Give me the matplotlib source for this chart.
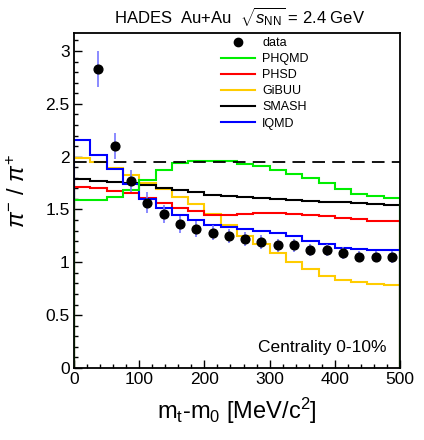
import numpy as np
import matplotlib
matplotlib.use('Agg')
import matplotlib.pyplot as plt
from matplotlib.lines import Line2D
from matplotlib.ticker import MultipleLocator, FormatStrFormatter

plt.rcParams['font.family'] = ['Liberation Sans', 'DejaVu Sans']
plt.rcParams['mathtext.fontset'] = 'custom'
plt.rcParams['mathtext.rm'] = 'Liberation Sans'
plt.rcParams['mathtext.it'] = 'Liberation Sans:italic'
plt.rcParams['mathtext.sf'] = 'Liberation Sans'

# bin edges in mt-m0 [MeV/c^2], 25 MeV wide
edges = np.arange(0, 525, 25)

# HADES data, pi-/pi+ ratio
data_x = np.arange(37.5, 500, 25)
data_y = [2.83, 2.10, 1.77, 1.566, 1.453, 1.36, 1.317, 1.28, 1.25, 1.218,
          1.19, 1.16, 1.16, 1.118, 1.118, 1.09, 1.055, 1.055, 1.05]
data_err = [0.17, 0.12, 0.10, 0.095, 0.085, 0.08, 0.075, 0.07, 0.07, 0.065,
            0.065, 0.06, 0.06, 0.06, 0.055, 0.055, 0.055, 0.055, 0.055]

# model predictions
phqmd = [1.59, 1.59, 1.62, 1.68, 1.777, 1.87, 1.94, 1.96, 1.96, 1.96,
         1.935, 1.91, 1.87, 1.84, 1.80, 1.746, 1.69, 1.645, 1.626, 1.613]
phsd = [1.71, 1.70, 1.676, 1.655, 1.613, 1.565, 1.518, 1.485, 1.45, 1.448,
        1.458, 1.462, 1.462, 1.458, 1.452, 1.437, 1.42, 1.408, 1.39, 1.39]
gibuu = [1.99, 1.95, 1.89, 1.825, 1.75, 1.69, 1.615, 1.55, 1.455, 1.35,
         1.25, 1.17, 1.09, 1.00, 0.936, 0.875, 0.835, 0.81, 0.797, 0.786]
smash = [1.785, 1.77, 1.762, 1.752, 1.732, 1.706, 1.68, 1.667, 1.638, 1.628,
         1.622, 1.61, 1.597, 1.588, 1.578, 1.575, 1.57, 1.56, 1.552, 1.545]
iqmd = [2.155, 2.02, 1.887, 1.74, 1.598, 1.515, 1.45, 1.40, 1.355, 1.332,
        1.315, 1.30, 1.278, 1.245, 1.205, 1.17, 1.14, 1.122, 1.115, 1.112]

isospin_ratio = 1.95

fig = plt.figure(figsize=(4.24, 4.40), dpi=100)
ax = fig.add_axes([74/424, 1-368/440, 326/424, 335/440])

lw = 1.5
ax.stairs(gibuu, edges, baseline=0, color='#ffcc00', lw=lw, zorder=2)
ax.stairs(smash, edges, baseline=0, color='black', lw=lw, zorder=2)
ax.stairs(phsd, edges, baseline=0, color='#ff0000', lw=lw, zorder=2)
ax.stairs(iqmd, edges, baseline=0, color='#0000ff', lw=lw, zorder=2)
ax.stairs(phqmd, edges, baseline=0, color='#00ee00', lw=lw, zorder=2)

ax.axhline(isospin_ratio, color='black', lw=1.3, dashes=(7, 4), zorder=3)

ax.errorbar(data_x, data_y, yerr=data_err, fmt='o', color='black', ms=6.3,
            ecolor='#7777ff', elinewidth=1.2, capsize=0, zorder=5)

ax.set_xlim(0, 500)
ax.set_ylim(0, 3.17)

ax.xaxis.set_major_locator(MultipleLocator(100))
ax.xaxis.set_minor_locator(MultipleLocator(20))
ax.yaxis.set_major_locator(MultipleLocator(0.5))
ax.yaxis.set_minor_locator(MultipleLocator(0.1))
ax.yaxis.set_major_formatter(FormatStrFormatter('%g'))
ax.tick_params(which='both', direction='in', top=False, right=False,
               labelsize=12.5, width=1.0)
ax.tick_params(which='major', length=6, pad=3)
ax.tick_params(which='minor', length=3)
for s in ax.spines.values():
    s.set_linewidth(1.3)
    s.set_zorder(6)

ax.set_xlabel(r'm$_{\rm t}$-m$_{\rm 0}$ [MeV/c$^{\rm 2}$]', fontsize=17,
              labelpad=6)
ax.set_ylabel(r'$\pi^{-}$ / $\pi^{+}$', fontsize=17)
ax.yaxis.set_label_coords(-0.135, 0.53)

fig.text(240/424, 1-16/440,
         r'HADES  Au+Au  $\sqrt{s_{\rm NN}}$ = 2.4 GeV',
         ha='center', va='center', fontsize=12)

ax.text(0.96, 0.06, 'Centrality 0-10%', transform=ax.transAxes,
        ha='right', va='center', fontsize=12.5)

handles = [
    Line2D([], [], marker='o', ls='none', color='black', ms=6),
    Line2D([], [], color='#00ee00', lw=lw),
    Line2D([], [], color='#ff0000', lw=lw),
    Line2D([], [], color='#ffcc00', lw=lw),
    Line2D([], [], color='black', lw=lw),
    Line2D([], [], color='#0000ff', lw=lw),
]
labels = ['data', 'PHQMD', 'PHSD', 'GiBUU', 'SMASH', 'IQMD']
fig.legend(handles, labels, loc='upper left',
           bbox_to_anchor=(221/424, 1-37/440), frameon=False,
           fontsize=9, handlelength=2.7, handletextpad=0.6,
           labelspacing=0.33, borderpad=0, borderaxespad=0)

fig.savefig('out.png', dpi=100)
